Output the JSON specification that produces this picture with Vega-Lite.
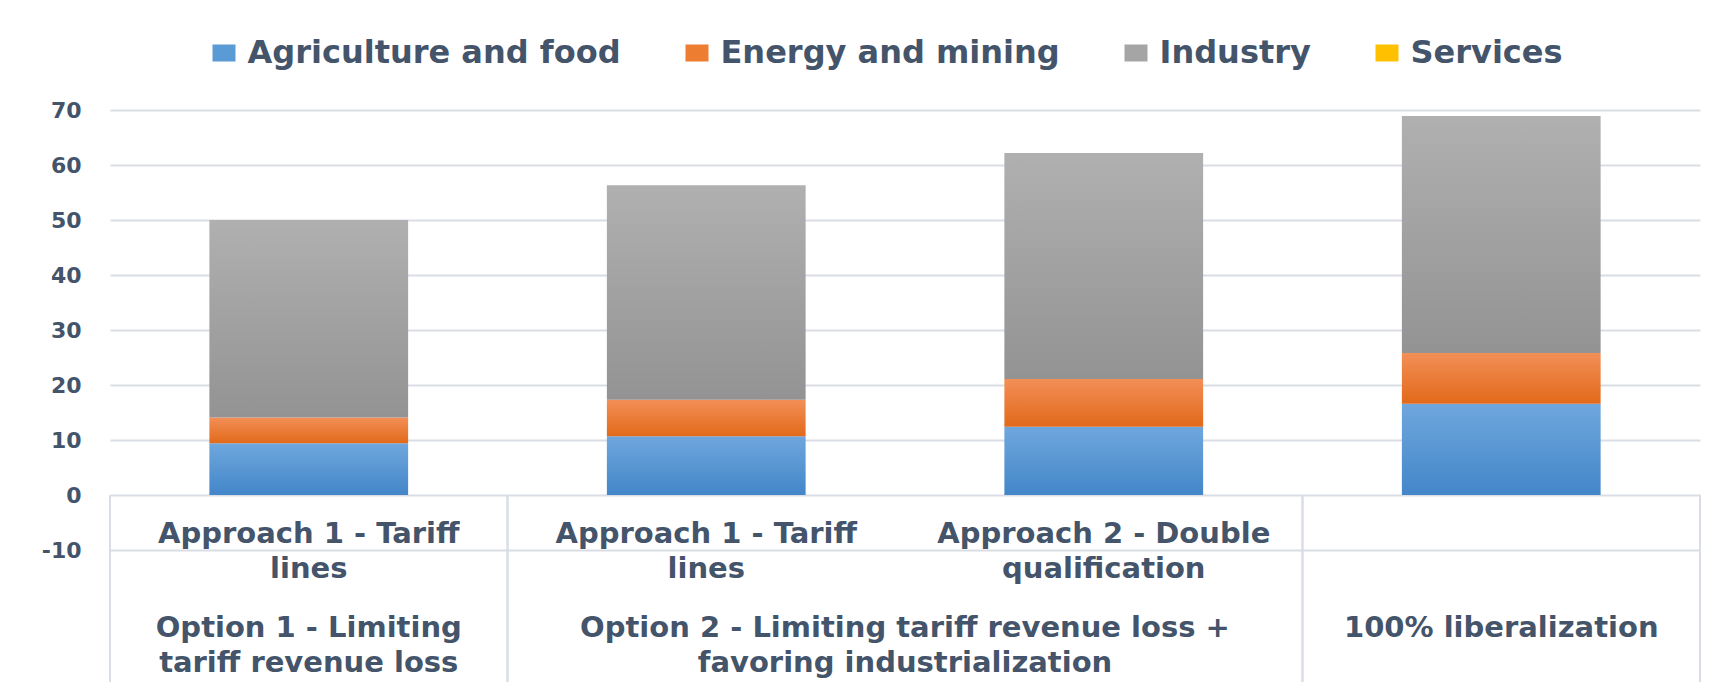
{
  "$schema": "https://vega.github.io/schema/vega-lite/v6.json",
  "width": 1590,
  "height": 572,
  "autosize": {"type": "none"},
  "padding": {"left": 110, "top": 110, "right": 23, "bottom": 4},
  "background": "white",
  "config": {
    "view": {"stroke": null},
    "font": "DejaVu Sans",
    "axisY": {
      "grid": true,
      "gridColor": "#d9dee6",
      "gridWidth": 2,
      "domain": false,
      "ticks": false,
      "tickSize": 0,
      "labelPadding": 29,
      "labelFont": "DejaVu Sans",
      "labelFontSize": 22,
      "labelFontWeight": "bold",
      "labelColor": "#44546a"
    }
  },
  "datasets": {
    "bars": [
      {"scenario": "Option 1 | Approach 1 - Tariff lines", "sector": "Agriculture and food", "value": 9.4},
      {"scenario": "Option 1 | Approach 1 - Tariff lines", "sector": "Energy and mining", "value": 4.7},
      {"scenario": "Option 1 | Approach 1 - Tariff lines", "sector": "Industry", "value": 35.9},
      {"scenario": "Option 1 | Approach 1 - Tariff lines", "sector": "Services", "value": 0},
      {"scenario": "Option 2 | Approach 1 - Tariff lines", "sector": "Agriculture and food", "value": 10.7},
      {"scenario": "Option 2 | Approach 1 - Tariff lines", "sector": "Energy and mining", "value": 6.6},
      {"scenario": "Option 2 | Approach 1 - Tariff lines", "sector": "Industry", "value": 39.0},
      {"scenario": "Option 2 | Approach 1 - Tariff lines", "sector": "Services", "value": 0},
      {"scenario": "Option 2 | Approach 2 - Double qualification", "sector": "Agriculture and food", "value": 12.4},
      {"scenario": "Option 2 | Approach 2 - Double qualification", "sector": "Energy and mining", "value": 8.7},
      {"scenario": "Option 2 | Approach 2 - Double qualification", "sector": "Industry", "value": 41.1},
      {"scenario": "Option 2 | Approach 2 - Double qualification", "sector": "Services", "value": 0},
      {"scenario": "100% liberalization", "sector": "Agriculture and food", "value": 16.6},
      {"scenario": "100% liberalization", "sector": "Energy and mining", "value": 9.2},
      {"scenario": "100% liberalization", "sector": "Industry", "value": 43.1},
      {"scenario": "100% liberalization", "sector": "Services", "value": 0}
    ],
    "inner": [
      {"scenario": "Option 1 | Approach 1 - Tariff lines", "label": "Approach 1 - Tariff\nlines"},
      {"scenario": "Option 2 | Approach 1 - Tariff lines", "label": "Approach 1 - Tariff\nlines"},
      {"scenario": "Option 2 | Approach 2 - Double qualification", "label": "Approach 2 - Double\nqualification"}
    ],
    "groups": [
      {"group": "Option 1 - Limiting\ntariff revenue loss", "first": "Option 1 | Approach 1 - Tariff lines", "last": "Option 1 | Approach 1 - Tariff lines", "span": 1},
      {"group": "Option 2 - Limiting tariff revenue loss +\nfavoring industrialization", "first": "Option 2 | Approach 1 - Tariff lines", "last": "Option 2 | Approach 2 - Double qualification", "span": 2},
      {"group": "100% liberalization", "first": "100% liberalization", "last": "100% liberalization", "span": 1}
    ]
  },
  "layer": [
    {
      "data": {"name": "bars"},
      "mark": {"type": "bar", "opacity": 0},
      "encoding": {
        "x": {
          "field": "scenario", "type": "nominal", "axis": null,
          "scale": {
            "domain": [
              "Option 1 | Approach 1 - Tariff lines",
              "Option 2 | Approach 1 - Tariff lines",
              "Option 2 | Approach 2 - Double qualification",
              "100% liberalization"
            ],
            "paddingInner": 0.5,
            "paddingOuter": 0.25
          }
        },
        "y": {
          "field": "value", "type": "quantitative", "aggregate": "sum", "title": null,
          "scale": {"domain": [-34, 70], "nice": false, "zero": false},
          "axis": {
            "values": [-10, 0, 10, 20, 30, 40, 50, 60, 70],
            "title": null,
            "labelExpr": "datum.value < 0 ? '-' + abs(datum.value) : '' + datum.value"
          }
        },
        "color": {
          "field": "sector", "type": "nominal",
          "scale": {
            "domain": ["Agriculture and food", "Energy and mining", "Industry", "Services"],
            "range": ["#5b9bd5", "#ed7d31", "#a5a5a5", "#ffc000"]
          },
          "legend": {
            "orient": "none",
            "legendX": 98,
            "legendY": -73,
            "direction": "horizontal",
            "title": null,
            "padding": 0,
            "symbolType": "M-1.15,-0.85H1.15V0.85H-1.15Z",
            "symbolSize": 400,
            "symbolStrokeWidth": 0,
            "symbolOpacity": 1,
            "labelFont": "DejaVu Sans",
            "labelFontSize": 32,
            "labelFontWeight": "bold",
            "labelColor": "#44546a",
            "labelLimit": 1000,
            "labelOffset": 7.5,
            "columnPadding": 60
          }
        }
      }
    },
    {
      "data": {"name": "bars"},
      "transform": [
        {"stack": "value", "groupby": ["scenario"], "sort": [{"field": "sector", "order": "ascending"}], "as": ["v0", "v1"]}
      ],
      "layer": [
        {
          "transform": [{"filter": "datum.sector === 'Agriculture and food'"}],
          "mark": {"type": "bar", "color": {"gradient": "linear", "x1": 0, "y1": 0, "x2": 0, "y2": 1, "stops": [{"offset": 0, "color": "#6fa7dd"}, {"offset": 1, "color": "#4386c9"}]}},
          "encoding": {
            "x": {"field": "scenario", "type": "nominal", "axis": null},
            "y": {"field": "v1", "type": "quantitative", "title": null},
            "y2": {"field": "v0"}
          }
        },
        {
          "transform": [{"filter": "datum.sector === 'Energy and mining'"}],
          "mark": {"type": "bar", "color": {"gradient": "linear", "x1": 0, "y1": 0, "x2": 0, "y2": 1, "stops": [{"offset": 0, "color": "#f28f57"}, {"offset": 1, "color": "#e2691a"}]}},
          "encoding": {
            "x": {"field": "scenario", "type": "nominal", "axis": null},
            "y": {"field": "v1", "type": "quantitative", "title": null},
            "y2": {"field": "v0"}
          }
        },
        {
          "transform": [{"filter": "datum.sector === 'Industry'"}],
          "mark": {"type": "bar", "color": {"gradient": "linear", "x1": 0, "y1": 0, "x2": 0, "y2": 1, "stops": [{"offset": 0, "color": "#b0b0b0"}, {"offset": 1, "color": "#939393"}]}},
          "encoding": {
            "x": {"field": "scenario", "type": "nominal", "axis": null},
            "y": {"field": "v1", "type": "quantitative", "title": null},
            "y2": {"field": "v0"}
          }
        }
      ]
    },
    {
      "data": {"name": "groups"},
      "mark": {"type": "rule", "color": "#d9dee6", "strokeWidth": 2},
      "encoding": {
        "x": {"field": "first", "type": "nominal", "bandPosition": -0.5, "axis": null},
        "y": {"datum": 0},
        "y2": {"datum": -34}
      }
    },
    {
      "data": {"name": "groups"},
      "mark": {"type": "rule", "color": "#d9dee6", "strokeWidth": 2},
      "encoding": {
        "x": {"field": "last", "type": "nominal", "bandPosition": 1.5, "axis": null},
        "y": {"datum": 0},
        "y2": {"datum": -34}
      }
    },
    {
      "data": {"name": "inner"},
      "mark": {"type": "text", "lineBreak": "\n", "lineHeight": 35, "font": "DejaVu Sans", "fontSize": 29, "fontWeight": "bold", "color": "#44546a", "align": "center", "baseline": "alphabetic"},
      "encoding": {
        "x": {"field": "scenario", "type": "nominal", "axis": null},
        "y": {"datum": -8.7},
        "text": {"field": "label"}
      }
    },
    {
      "data": {"name": "groups"},
      "transform": [{"filter": "datum.span === 1"}],
      "mark": {"type": "text", "lineBreak": "\n", "lineHeight": 35, "font": "DejaVu Sans", "fontSize": 29, "fontWeight": "bold", "color": "#44546a", "align": "center", "baseline": "alphabetic"},
      "encoding": {
        "x": {"field": "first", "type": "nominal", "bandPosition": 0.5, "axis": null},
        "y": {"datum": -25.8},
        "text": {"field": "group"}
      }
    },
    {
      "data": {"name": "groups"},
      "transform": [{"filter": "datum.span === 2"}],
      "mark": {"type": "text", "lineBreak": "\n", "lineHeight": 35, "font": "DejaVu Sans", "fontSize": 29, "fontWeight": "bold", "color": "#44546a", "align": "center", "baseline": "alphabetic"},
      "encoding": {
        "x": {"field": "first", "type": "nominal", "bandPosition": 1.5, "axis": null},
        "y": {"datum": -25.8},
        "text": {"field": "group"}
      }
    }
  ]
}
